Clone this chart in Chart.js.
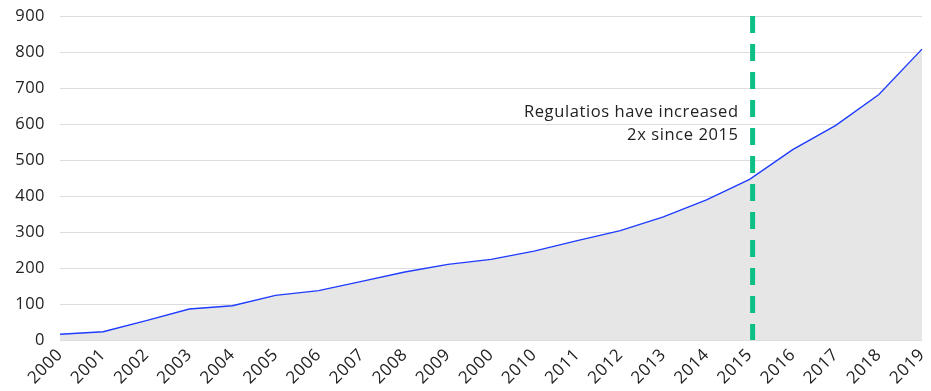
<!DOCTYPE html>
<html>
<head>
<meta charset="utf-8">
<script src="https://cdn.jsdelivr.net/npm/chart.js@4.4.1/dist/chart.umd.min.js"></script>
<style>
  html, body { margin: 0; padding: 0; background: #ffffff; }
  #wrap { width: 931px; height: 391px; position: relative; }
</style>
</head>
<body>
<div id="wrap"><canvas id="c" width="931" height="391"></canvas></div>
<script>
// ---- data ----
const categories = ['2000','2001','2002','2003','2004','2005','2006','2007','2008','2009','2000',
                    '2010','2011','2012','2013','2014','2015','2016','2017','2018','2019'];
const regulations = [16, 23, 54, 86, 95, 124, 137, 163, 189, 210, 224,
                     247, 276, 304, 342, 389, 446, 529, 596, 682, 808];
const yTicks = [0, 100, 200, 300, 400, 500, 600, 700, 800, 900];
const markerCategoryIndex = 16; // "2015"
const annotationLines = ['Regulatios have increased', '2x since 2015'];

const FONT = '"Open Sans", Lato, sans-serif';

const spacingPlugin = {
  id: 'spacing',
  beforeDraw(chart) {
    if ('letterSpacing' in chart.ctx) chart.ctx.letterSpacing = '0.5px';
  }
};

const markerPlugin = {
  id: 'marker',
  afterDatasetsDraw(chart) {
    const ctx = chart.ctx;
    const xs = chart.scales.x;
    const area = chart.chartArea;
    const x = xs.getPixelForValue(markerCategoryIndex) + 3;
    ctx.save();
    ctx.strokeStyle = '#0dbf86';
    ctx.lineWidth = 5;
    ctx.setLineDash([17, 11]);
    ctx.beginPath();
    ctx.moveTo(x, area.top);
    ctx.lineTo(x, area.bottom);
    ctx.stroke();
    ctx.setLineDash([]);
    ctx.fillStyle = '#222222';
    ctx.font = '16.5px ' + FONT;
    if ('letterSpacing' in ctx) ctx.letterSpacing = '0.6px';
    ctx.textAlign = 'right';
    ctx.textBaseline = 'middle';
    annotationLines.forEach((t, i) => {
      ctx.fillText(t, x - 14, chart.scales.y.getPixelForValue(633) + i * 23.5);
    });
    ctx.restore();
  }
};

new Chart(document.getElementById('c'), {
  type: 'line',
  data: {
    labels: categories,
    datasets: [{
      data: regulations,
      borderColor: '#1f3cff',
      borderWidth: 1.4,
      backgroundColor: '#e6e6e6',
      fill: 'origin',
      tension: 0,
      pointRadius: 0,
      pointHoverRadius: 0
    }]
  },
  options: {
    responsive: false,
    animation: false,
    events: [],
    layout: { padding: { top: 16, right: 9, left: 0, bottom: 0 } },
    plugins: { legend: { display: false }, tooltip: { enabled: false } },
    scales: {
      x: {
        offset: false,
        grid: { display: false, drawTicks: false },
        border: { display: false },
        ticks: {
          autoSkip: false,
          minRotation: 45,
          maxRotation: 45,
          padding: 5,
          color: '#222222',
          font: { family: FONT, size: 17 }
        },
        afterFit(scale) { scale.height = 51; scale.paddingRight = 0; scale.paddingLeft = 0; }
      },
      y: {
        min: 0,
        max: 900,
        afterBuildTicks(scale) { scale.ticks = yTicks.map(v => ({ value: v })); },
        grid: { color: '#dddddd', lineWidth: 1, drawTicks: false },
        border: { display: false },
        ticks: {
          padding: 15,
          color: '#222222',
          font: { family: FONT, size: 16.5 }
        },
        afterFit(scale) { scale.width = 60; scale.paddingTop = 0; scale.paddingBottom = 0; }
      }
    }
  },
  plugins: [spacingPlugin, markerPlugin]
});
</script>
</body>
</html>
